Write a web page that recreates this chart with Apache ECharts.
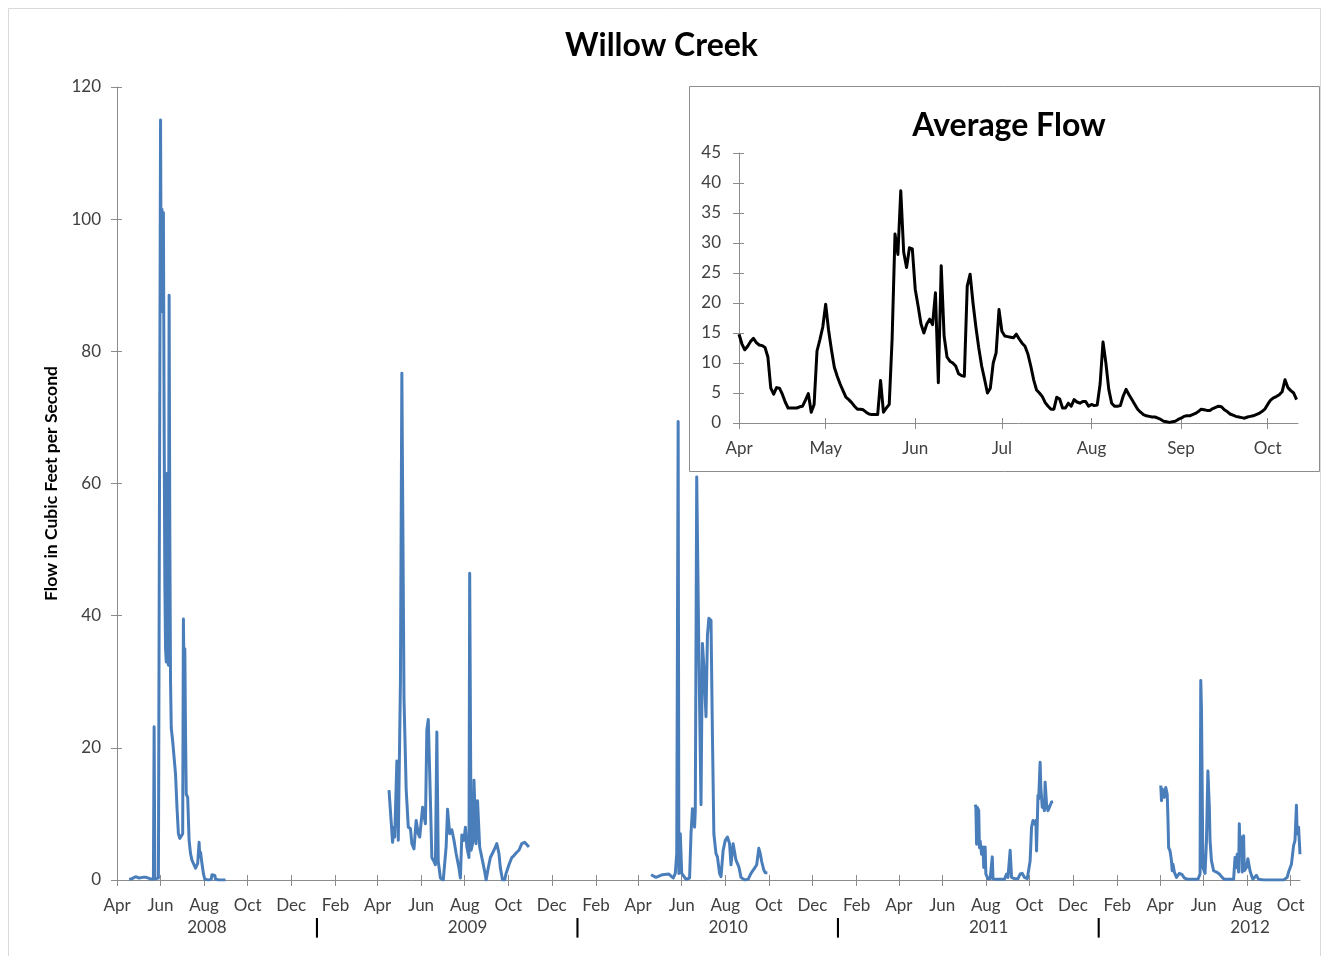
<!DOCTYPE html>
<html><head><meta charset="utf-8">
<script src="https://cdn.jsdelivr.net/npm/echarts@6/dist/echarts.min.js"></script>
<style>html,body{margin:0;padding:0;background:#fff}#c{width:1323px;height:956px}</style>
</head><body><div id="c"></div>
<script>
// ---------- data (daily flow, cfs) ----------
const flow2008 = [['2008-04-18',0.1],['2008-04-22',0.2],['2008-04-27',0.5],['2008-05-02',0.3],['2008-05-07',0.4],['2008-05-12',0.4],['2008-05-17',0.2],['2008-05-22',0.1],['2008-05-23',23.2],['2008-05-24',0.2],['2008-05-29',0.3],['2008-05-31',0.5],['2008-06-01',115],['2008-06-02',86],['2008-06-03',101.5],['2008-06-04',88],['2008-06-05',101],['2008-06-06',70],['2008-06-07',45],['2008-06-08',35],['2008-06-09',33],['2008-06-10',61.5],['2008-06-11',34],['2008-06-12',32.5],['2008-06-13',88.5],['2008-06-14',52],['2008-06-15',30],['2008-06-16',23],['2008-06-18',21],['2008-06-20',18.5],['2008-06-22',16],['2008-06-24',11],['2008-06-26',7],['2008-06-28',6.3],['2008-06-30',6.5],['2008-07-02',7],['2008-07-03',39.5],['2008-07-04',30],['2008-07-05',35],['2008-07-06',22],['2008-07-07',13],['2008-07-09',12.5],['2008-07-11',6],['2008-07-13',4],['2008-07-15',3],['2008-07-17',2.5],['2008-07-20',1.8],['2008-07-23',2.5],['2008-07-25',5.7],['2008-07-26',3.5],['2008-07-27',4.2],['2008-07-29',2.5],['2008-07-31',1],['2008-08-02',0.1],['2008-08-07',0],['2008-08-11',0.1],['2008-08-12',0.8],['2008-08-16',0.7],['2008-08-17',0.1],['2008-08-22',0],['2008-08-31',0]];
const flow2009 = [['2009-04-17',13.6],['2009-04-22',5.7],['2009-04-24',8],['2009-04-25',6.5],['2009-04-28',18],['2009-04-30',6],['2009-05-03',30],['2009-05-05',76.7],['2009-05-08',27.4],['2009-05-11',13.8],['2009-05-14',8],['2009-05-17',7.8],['2009-05-19',5.5],['2009-05-22',4.7],['2009-05-25',9],['2009-05-28',7],['2009-05-30',6.5],['2009-06-03',11],['2009-06-05',11.3],['2009-06-07',8.5],['2009-06-09',22.7],['2009-06-11',24.3],['2009-06-14',12],['2009-06-16',3.4],['2009-06-19',2.8],['2009-06-21',2.3],['2009-06-23',22.4],['2009-06-25',2.8],['2009-06-28',0.3],['2009-07-02',0],['2009-07-06',5],['2009-07-08',10.7],['2009-07-11',7],['2009-07-14',7.6],['2009-07-17',6],['2009-07-20',4],['2009-07-24',1.8],['2009-07-26',0.3],['2009-07-28',6.8],['2009-07-31',6],['2009-08-02',8],['2009-08-04',5],['2009-08-07',3.4],['2009-08-08',46.4],['2009-08-10',4.5],['2009-08-13',6],['2009-08-14',15.1],['2009-08-16',14.8],['2009-08-17',5.5],['2009-08-19',12],['2009-08-22',5],['2009-08-25',3.4],['2009-08-29',1.3],['2009-08-31',0],['2009-09-03',1.8],['2009-09-06',3.4],['2009-09-11',4.5],['2009-09-15',5.5],['2009-09-18',4],['2009-09-20',1.8],['2009-09-23',0],['2009-09-26',0],['2009-09-28',1],['2009-10-02',2.3],['2009-10-06',3.4],['2009-10-09',3.7],['2009-10-13',4.2],['2009-10-16',4.5],['2009-10-20',5.5],['2009-10-24',5.7],['2009-10-30',5]];
const flow2010 = [['2010-04-19',0.8],['2010-04-26',0.4],['2010-05-05',0.8],['2010-05-14',0.9],['2010-05-20',0.3],['2010-05-23',1],['2010-05-25',4],['2010-05-27',69.4],['2010-05-28',1],['2010-05-30',7],['2010-06-01',1],['2010-06-07',0.1],['2010-06-12',0.3],['2010-06-14',7],['2010-06-16',10.8],['2010-06-19',8],['2010-06-20',10.5],['2010-06-22',61],['2010-06-25',34.3],['2010-06-28',11.4],['2010-06-30',35.8],['2010-07-02',32.3],['2010-07-05',24.7],['2010-07-07',37],['2010-07-09',39.6],['2010-07-12',39.3],['2010-07-14',22],['2010-07-16',7],['2010-07-19',4],['2010-07-21',3.5],['2010-07-24',1],['2010-07-26',0.5],['2010-07-29',4.5],['2010-08-01',6],['2010-08-04',6.5],['2010-08-07',5.5],['2010-08-09',2.3],['2010-08-12',5.5],['2010-08-14',5.8],['2010-08-16',3],['2010-08-20',2],['2010-08-23',0.4],['2010-08-28',0],['2010-09-02',0.1],['2010-09-06',1],['2010-09-11',1.8],['2010-09-14',2.3],['2010-09-17',4.8],['2010-09-19',4],['2010-09-21',2.8],['2010-09-24',1.5],['2010-09-26',1.1],['2010-09-29',1.1]];
const flow2011 = [['2011-07-17',11.4],['2011-07-18',11],['2011-07-19',5.4],['2011-07-20',11],['2011-07-22',10.5],['2011-07-23',4.9],['2011-07-24',5.9],['2011-07-26',3.9],['2011-07-28',5],['2011-07-29',1.9],['2011-07-31',5],['2011-08-01',0.9],['2011-08-04',0.2],['2011-08-07',0.2],['2011-08-09',0.4],['2011-08-10',3.5],['2011-08-11',0.2],['2011-08-15',0.1],['2011-08-20',0.1],['2011-08-27',0.1],['2011-08-30',0.9],['2011-09-01',0.4],['2011-09-04',4.5],['2011-09-06',0.4],['2011-09-10',0.2],['2011-09-15',0.2],['2011-09-18',0.9],['2011-09-21',1],['2011-09-24',0.4],['2011-09-28',0.2],['2011-09-30',0.4],['2011-10-02',2.9],['2011-10-04',8],['2011-10-06',9],['2011-10-08',8.5],['2011-10-10',9],['2011-10-11',4.4],['2011-10-13',12.8],['2011-10-14',12.3],['2011-10-16',17.8],['2011-10-17',14],['2011-10-19',11],['2011-10-20',11.5],['2011-10-22',10.5],['2011-10-23',14.8],['2011-10-25',11.5],['2011-10-27',10.5],['2011-10-29',11],['2011-10-31',10.8],['2011-11-01',11.8],['2011-11-03',11.9]];
const flow2012 = [['2012-04-02',14.3],['2012-04-03',12],['2012-04-04',13.8],['2012-04-06',14],['2012-04-07',12.5],['2012-04-09',14],['2012-04-11',13],['2012-04-12',9.5],['2012-04-13',4.9],['2012-04-15',4.4],['2012-04-17',2.9],['2012-04-18',1.4],['2012-04-19',2.4],['2012-04-21',1.2],['2012-04-24',0.4],['2012-04-26',0.7],['2012-04-28',1],['2012-05-02',0.8],['2012-05-05',0.3],['2012-05-10',0.1],['2012-05-17',0.1],['2012-05-24',0.1],['2012-05-27',0.9],['2012-05-28',30.2],['2012-05-29',26],['2012-05-31',1.9],['2012-06-03',1],['2012-06-05',6],['2012-06-07',16.5],['2012-06-09',11],['2012-06-10',6],['2012-06-12',2.9],['2012-06-15',1.4],['2012-06-19',1.2],['2012-06-23',0.9],['2012-06-27',0.4],['2012-06-30',0.1],['2012-07-07',0.1],['2012-07-13',0.1],['2012-07-15',3.4],['2012-07-17',1.9],['2012-07-18',3.9],['2012-07-20',1.2],['2012-07-21',8.5],['2012-07-22',4.4],['2012-07-24',6.5],['2012-07-25',1.2],['2012-07-27',6.7],['2012-07-28',1.4],['2012-07-31',1.9],['2012-08-02',3.2],['2012-08-05',1.4],['2012-08-07',0.7],['2012-08-09',0.1],['2012-08-14',0.7],['2012-08-17',0.1],['2012-08-24',0],['2012-09-07',0],['2012-09-21',0],['2012-09-26',0.4],['2012-09-28',1.2],['2012-09-30',1.4],['2012-10-02',2.4],['2012-10-05',5.2],['2012-10-07',6],['2012-10-09',11.3],['2012-10-10',7],['2012-10-12',8],['2012-10-14',3.9]];

// Average flow by calendar day, starting 1 April (one value per day)
const avgStart = '04-01';
const avgFlow = [14.8,13.2,12.2,12.8,13.6,14.1,13.4,13.0,12.9,12.6,11.0,5.8,4.8,5.9,5.8,4.8,3.5,2.5,2.5,2.5,
2.5,2.7,2.8,3.8,4.9,1.8,3.1,12.0,13.9,16.0,19.8,15.5,12.2,9.3,7.8,6.5,5.4,4.3,3.9,3.4,
2.8,2.3,2.3,2.2,1.8,1.5,1.4,1.4,1.4,7.1,1.8,2.5,3.1,14.0,31.5,28.1,38.7,28.5,25.9,29.2,
29.0,22.3,19.5,16.5,15.0,16.5,17.3,16.4,21.7,6.7,26.2,14.5,11.0,10.3,10.0,9.5,8.2,7.9,7.8,22.8,
24.8,20.0,16.0,12.5,9.5,7.3,5.0,5.8,10.0,11.7,18.9,15.3,14.5,14.4,14.3,14.2,14.8,14.0,13.3,12.8,
11.5,9.5,7.2,5.5,5.0,4.4,3.4,2.8,2.3,2.3,4.3,4.0,2.5,2.5,3.3,2.8,3.9,3.5,3.3,3.6,
3.6,2.8,3.1,2.9,3.0,6.5,13.5,10.0,5.6,3.3,2.8,2.8,2.9,4.5,5.6,4.7,3.9,3.1,2.3,1.8,
1.4,1.2,1.1,1.0,1.0,0.8,0.6,0.3,0.2,0.1,0.2,0.3,0.6,0.8,1.1,1.2,1.2,1.4,1.6,1.9,
2.3,2.2,2.1,2.1,2.4,2.6,2.8,2.7,2.2,1.9,1.5,1.3,1.1,1.0,0.9,0.8,1.0,1.1,1.2,1.4,
1.6,1.9,2.3,3.1,3.8,4.2,4.4,4.7,5.2,7.2,5.9,5.4,5.0,3.9];

const monthNames = ['Jan','Feb','Mar','Apr','May','Jun','Jul','Aug','Sep','Oct','Nov','Dec'];
const yearLabels = ['2008','2009','2010','2011','2012'];
const avgMonthLabels = ['Apr','May','Jun','Jul','Aug','Sep','Oct'];
const mainStart = '2008-04-01', mainEnd = '2012-10-14';

// ---------- helpers ----------
const FONT = 'Lato, "Open Sans", sans-serif';
function utc(s){const [y,m,d]=s.split('-').map(Number);return Date.UTC(y,m-1,d);}
const day0 = utc(mainStart);
function dayOf(s){return Math.round((utc(s)-day0)/864e5);}
function toXY(arr){return arr.map(p=>[dayOf(p[0]),p[1]]);}

// main x ticks: every 2 months from Apr 2008 to Oct 2012
const mainTicks = [], mainTickLabel = {};
for (let k=0;k<=54;k+=2){
  const dt = new Date(Date.UTC(2008,3+k,1));
  const v = (dt.getTime()-day0)/864e5;
  mainTicks.push(v); mainTickLabel[v] = monthNames[dt.getUTCMonth()];
}
// year labels (centred near August) and year separators (early January)
const yearVals = [], yearText = {};
yearLabels.forEach(y=>{const v=dayOf(y+'-08-05');yearVals.push(v);yearText[v]=y;});
yearLabels.slice(1).forEach(y=>{const v=dayOf(y+'-01-06');yearVals.push(v);yearText[v]='{s||}';});

// inset ticks
const avgBase = utc('2001-'+avgStart);
const avgTicks = [], avgTickLabel = {};
avgMonthLabels.forEach((m,i)=>{const v=(Date.UTC(2001,3+i,1)-avgBase)/864e5;avgTicks.push(v);avgTickLabel[v]=m;});
const avgData = avgFlow.map((v,i)=>[i,v]);

const axisGray = '#8c8c8c', labelGray = '#404040', blue = '#4a7ebb';
const mainMax = dayOf(mainEnd);

const chart = echarts.init(document.getElementById('c'), null, {renderer:'canvas'});
const seasonSeries = [flow2008,flow2009,flow2010,flow2011,flow2012].map((s,i)=>({
  type:'line', name:yearLabels[i], xAxisIndex:0, yAxisIndex:0, data:toXY(s),
  showSymbol:false, symbol:'none', lineStyle:{color:blue,width:3,join:'round'}, z:3
}));

// helper for "inside" tick copies (Excel cross tick marks)
function innerX(grid, max, ticks){
  return {type:'value', gridIndex:grid, min:0, max:max, position:'bottom',
    axisLine:{show:false}, axisLabel:{show:false}, splitLine:{show:false},
    axisTick:{show:true, inside:true, customValues:ticks, length:5, lineStyle:{color:axisGray}}};
}
function innerY(grid, max, interval){
  return {type:'value', gridIndex:grid, min:0, max:max, interval:interval, position:'left',
    axisLine:{show:false}, axisLabel:{show:false}, splitLine:{show:false},
    axisTick:{show:true, inside:true, length:5, lineStyle:{color:axisGray}}};
}

chart.setOption({
  animation:false,
  backgroundColor:'#fff',
  title:[
    {text:'Willow Creek', left:'center', top:25, textStyle:{fontFamily:FONT,fontSize:32,fontWeight:'bold',color:'#000'}},
    {text:'Average Flow', left:1004, textAlign:'center', top:105, textStyle:{fontFamily:FONT,fontSize:32,fontWeight:'bold',color:'#000'}}
  ],
  graphic:[
    {type:'rect', shape:{x:8.5,y:8.5,width:1312,height:960}, style:{fill:'none',stroke:'#d9d9d9',lineWidth:1}, z:-20, silent:true},
    {type:'rect', shape:{x:689.5,y:86.5,width:630,height:385}, style:{fill:'#fff',stroke:'#8c8c8c',lineWidth:1}, z:-10, silent:true}
  ],
  grid:[
    {left:117, top:87, right:23, bottom:76},
    {left:739, top:153, width:559, height:270}
  ],
  xAxis:[
    {type:'value', gridIndex:0, min:0, max:mainMax,
     axisLine:{lineStyle:{color:axisGray,width:1}},
     axisTick:{customValues:mainTicks, length:6, lineStyle:{color:axisGray}},
     axisLabel:{customValues:mainTicks, formatter:v=>mainTickLabel[v]||'', color:labelGray, fontSize:17, fontFamily:FONT, margin:17},
     splitLine:{show:false}},
    {type:'value', gridIndex:0, min:0, max:mainMax, position:'bottom',
     axisLine:{show:false}, axisTick:{show:false}, splitLine:{show:false},
     axisLabel:{customValues:yearVals, formatter:v=>yearText[v]||'', color:labelGray, fontSize:17, fontFamily:FONT, margin:39,
       rich:{s:{fontSize:19, fontWeight:'bold', color:'#000', fontFamily:'"DejaVu Sans"'}}}},
    {type:'value', gridIndex:1, min:0, max:193.5,
     axisLine:{lineStyle:{color:axisGray,width:1}},
     axisTick:{customValues:avgTicks, length:6, lineStyle:{color:axisGray}},
     axisLabel:{customValues:avgTicks, formatter:v=>avgTickLabel[v]||'', color:labelGray, fontSize:17, fontFamily:FONT, margin:17},
     splitLine:{show:false}},
    innerX(0, mainMax, mainTicks),
    innerX(1, 193.5, avgTicks)
  ],
  yAxis:[
    {type:'value', gridIndex:0, min:0, max:120, interval:20,
     axisLine:{show:true, lineStyle:{color:axisGray,width:1}},
     axisTick:{show:true, length:6, lineStyle:{color:axisGray}},
     axisLabel:{color:labelGray, fontSize:17, fontFamily:FONT, margin:16},
     splitLine:{show:false},
     name:'Flow in Cubic Feet per Second', nameLocation:'middle', nameGap:57,
     nameTextStyle:{fontFamily:FONT, fontSize:17.5, fontWeight:'bold', color:'#000'}},
    {type:'value', gridIndex:1, min:0, max:45, interval:5,
     axisLine:{show:true, lineStyle:{color:axisGray,width:1}},
     axisTick:{show:true, length:6, lineStyle:{color:axisGray}},
     axisLabel:{color:labelGray, fontSize:17, fontFamily:FONT, margin:18},
     splitLine:{show:false}},
    innerY(0, 120, 20),
    innerY(1, 45, 5)
  ],
  series: seasonSeries.concat([{
    type:'line', name:'Average Flow', xAxisIndex:2, yAxisIndex:1, data:avgData,
    showSymbol:false, symbol:'none', lineStyle:{color:'#000',width:3,join:'round'}, z:3
  }])
});
</script></body></html>
